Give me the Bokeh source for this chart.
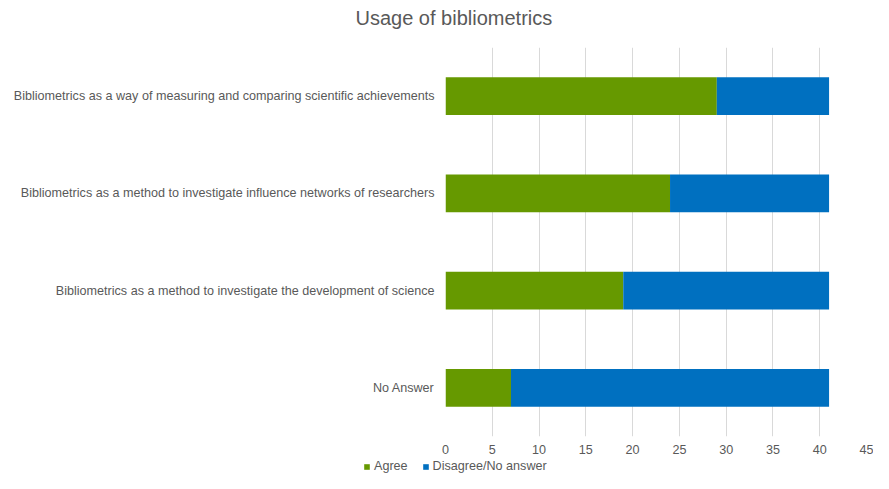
from bokeh.plotting import figure
from bokeh.layouts import column
from bokeh.models import ColumnDataSource, FactorRange, Range1d, FixedTicker, Legend, LegendItem, Title
from bokeh.embed import file_html
from bokeh.resources import INLINE

categories = [
    "Bibliometrics as a way of measuring and comparing scientific achievements",
    "Bibliometrics as a method to investigate influence networks of researchers",
    "Bibliometrics as a method to investigate the development of science",
    "No Answer",
]
agree = [29, 24, 19, 7]
disagree = [12, 17, 22, 34]
series = ["Agree", "Disagree/No answer"]
colors = ["#669900", "#0070C0"]
x_ticks = [0, 5, 10, 15, 20, 25, 30, 35, 40, 45]

TEXT = "#595959"
FONT = "Liberation Sans"

src = ColumnDataSource(dict(cat=categories, Agree=agree, **{"Disagree/No answer": disagree}))

p = figure(
    width=873, height=456, output_backend="svg", toolbar_location=None,
    y_range=FactorRange(factors=categories[::-1]),
    x_range=Range1d(0, 45),
    min_border_left=445, min_border_right=7, min_border_top=47, min_border_bottom=19,
)
p.frame_align = False
p.title = None
renderers = p.hbar_stack(series, y="cat", height=0.39, color=colors, source=src, line_color=None)

# spacer (closest to frame) then the real title above it
spacer = Title(text=" ", text_font_size="1px", standoff=16)
p.add_layout(spacer, "above")
title = Title(text="Usage of bibliometrics", text_font=FONT, text_font_size="20px",
              text_font_style="normal", text_color=TEXT, align="left", offset=-90, standoff=0)
p.add_layout(title, "above")

p.outline_line_color = None
p.ygrid.grid_line_color = None
p.xgrid.grid_line_color = "#d9d9d9"
p.xaxis.ticker = FixedTicker(ticks=x_ticks)
for ax in (p.xaxis[0], p.yaxis[0]):
    ax.axis_line_color = None
    ax.major_tick_line_color = None
    ax.minor_tick_line_color = None
    ax.major_label_text_font = FONT
    ax.major_label_text_font_size = "12.6px"
    ax.major_label_text_color = TEXT
p.yaxis.major_label_standoff = 5
p.xaxis.major_label_standoff = 2

# legend strip below the chart (its own full-width frame)
lg = figure(
    width=873, height=17, output_backend="svg", toolbar_location=None,
    x_range=Range1d(0, 1), y_range=FactorRange(factors=categories),
    x_axis_location=None, y_axis_location=None, min_border=0,
)
lg.frame_align = False
lg.outline_line_color = None
lg.grid.grid_line_color = None
lg_renderers = lg.hbar_stack(series, y="cat", height=0.39, color=colors, source=src, line_color=None)
for r in lg_renderers:
    r.visible = False
legend = Legend(
    items=[LegendItem(label=s, renderers=[r]) for s, r in zip(series, lg_renderers)],
    orientation="horizontal", location=(363, 0),
    label_text_font=FONT, label_text_font_size="12.6px", label_text_color=TEXT,
    glyph_width=7, glyph_height=7, label_height=12, label_standoff=4, spacing=14,
    border_line_color=None, background_fill_alpha=0, padding=0, margin=0,
    inactive_fill_alpha=0,
)
lg.add_layout(legend, "center")

layout = column(p, lg, spacing=0)
open("out.html", "w").write(file_html(layout, INLINE))
